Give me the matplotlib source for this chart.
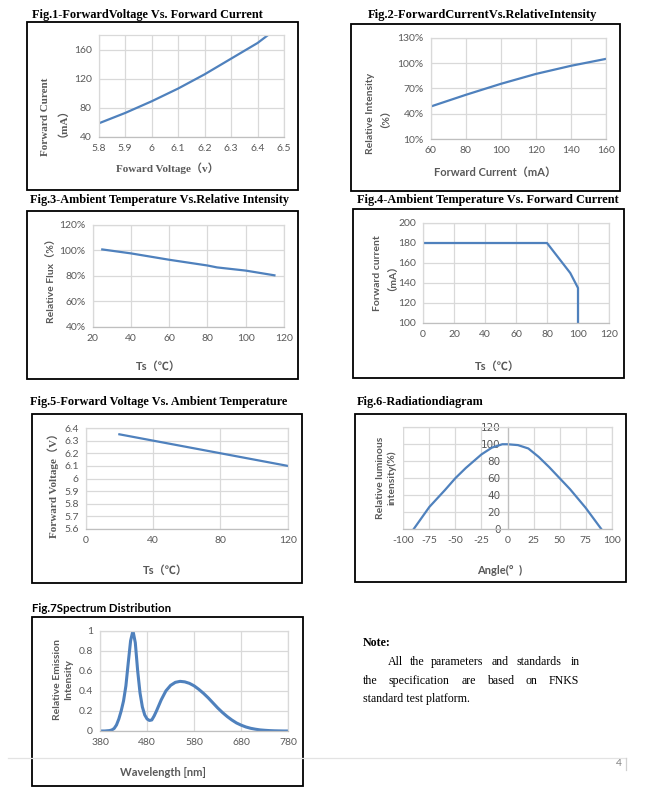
import matplotlib
matplotlib.use("Agg")
import matplotlib.pyplot as plt
from matplotlib.patches import Rectangle
from matplotlib.lines import Line2D

plt.rcParams["axes.unicode_minus"] = False

# ---------------- data ----------------
# Fig.1 Forward voltage vs forward current
f1_voltage = [5.8, 5.9, 6.0, 6.1, 6.2, 6.3, 6.4, 6.44]
f1_current = [58.7, 73, 89, 106.5, 126, 147.5, 169, 180]
f1_xticks = [5.8, 5.9, 6.0, 6.1, 6.2, 6.3, 6.4, 6.5]
f1_xlabels = ["5.8", "5.9", "6", "6.1", "6.2", "6.3", "6.4", "6.5"]
f1_yticks = [40, 80, 120, 160]

# Fig.2 Forward current vs relative intensity
f2_current = [60, 80, 100, 120, 140, 160]
f2_intensity = [48.7, 62.5, 75.5, 87.2, 96.8, 105]
f2_xticks = [60, 80, 100, 120, 140, 160]
f2_yticks = [10, 40, 70, 100, 130]
f2_ylabels = ["10%", "40%", "70%", "100%", "130%"]

# Fig.3 Ambient temperature vs relative intensity
f3_temp = [25, 40, 60, 80, 85, 100, 115]
f3_flux = [100.6, 97.5, 92.5, 88, 86.5, 84, 80.3]
f3_xticks = [20, 40, 60, 80, 100, 120]
f3_yticks = [40, 60, 80, 100, 120]
f3_ylabels = ["40%", "60%", "80%", "100%", "120%"]

# Fig.4 Ambient temperature vs forward current
f4_temp = [0, 80, 95, 100, 100]
f4_current = [180, 180, 150, 135, 100]
f4_xticks = [0, 20, 40, 60, 80, 100, 120]
f4_yticks = [100, 120, 140, 160, 180, 200]

# Fig.5 Forward voltage vs ambient temperature
f5_temp = [20, 40, 80, 120]
f5_voltage = [6.35, 6.30, 6.20, 6.10]
f5_xticks = [0, 40, 80, 120]
f5_yticks = [5.6, 5.7, 5.8, 5.9, 6.0, 6.1, 6.2, 6.3, 6.4]
f5_ylabels = ["5.6", "5.7", "5.8", "5.9", "6", "6.1", "6.2", "6.3", "6.4"]

# Fig.6 Radiation diagram
f6_angle = [-90, -75, -60, -50, -40, -25, -15, -5, 0, 10, 20, 30, 40, 50, 60, 75, 90]
f6_intensity = [0, 26, 46, 60, 72, 88, 96, 100, 100, 99, 95, 85, 73, 60, 47, 25, 0]
f6_xticks = [-100, -75, -50, -25, 0, 25, 50, 75, 100]
f6_xlabels = ["-100", "-75", "-50", "-25", "0", "25", "50", "75", "100"]
f6_yticks = [0, 20, 40, 60, 80, 100, 120]
f6_ylabels = ["0", "20", "40", "60", "80", "100", "120"]

# Fig.7 Spectrum distribution
f7_wavelength = [380, 390, 400, 405, 410, 415, 420, 425, 430, 435, 440, 445, 450, 455, 460,
                 465, 470, 475, 480, 485, 490, 495, 500, 510, 520, 530, 540, 550, 560, 570,
                 580, 590, 600, 610, 620, 630, 640, 650, 660, 670, 680, 690, 700, 710, 720,
                 730, 740, 750, 760, 770, 780]
f7_intensity = [0.0, 0.0, 0.004, 0.01, 0.025, 0.06, 0.12, 0.2, 0.3, 0.45, 0.68, 0.9, 1.0, 0.88, 0.6,
                0.38, 0.24, 0.16, 0.12, 0.105, 0.11, 0.15, 0.2, 0.31, 0.4, 0.455, 0.485, 0.495, 0.49, 0.475,
                0.45, 0.415, 0.375, 0.33, 0.28, 0.23, 0.185, 0.145, 0.11, 0.08, 0.058, 0.04, 0.027, 0.018, 0.011,
                0.007, 0.004, 0.002, 0.001, 0.0, 0.0]
f7_xticks = [380, 480, 580, 680, 780]
f7_yticks = [0, 0.2, 0.4, 0.6, 0.8, 1.0]
f7_ylabels = ["0", "0.2", "0.4", "0.6", "0.8", "1"]

# ---------------- layout helpers ----------------
W, H = 664, 798
fig = plt.figure(figsize=(W / 100, H / 100), dpi=100)
fig.patch.set_facecolor("white")

LINE = "#4f81bd"
GRID = "#d9d9d9"
TICK = "#595959"
SERIF = ["Liberation Serif", "Noto Sans CJK SC"]
SANS = ["Lato", "Noto Sans CJK SC", "DejaVu Sans"]
TSIZE = 8.8


def frect(x0, y0, x1, y1):
    return [x0 / W, 1 - y1 / H, (x1 - x0) / W, (y1 - y0) / H]


def ftext(x, y, s, **kw):
    return fig.text(x / W, 1 - y / H, s, **kw)


def frame(x0, y0, x1, y1):
    fig.add_artist(Rectangle((x0 / W, 1 - y1 / H), (x1 - x0) / W, (y1 - y0) / H,
                             transform=fig.transFigure, fill=False, lw=1.3,
                             edgecolor="black"))


def make_axes(box, xlim, ylim, xticks, yticks, xlabels=None, ylabels=None):
    ax = fig.add_axes(frect(*box))
    ax.set_xlim(*xlim)
    ax.set_ylim(*ylim)
    ax.set_xticks(xticks)
    ax.set_yticks(yticks)
    if xlabels is not None:
        ax.set_xticklabels(xlabels)
    if ylabels is not None:
        ax.set_yticklabels(ylabels)
    ax.grid(True, color=GRID, lw=0.9)
    ax.set_axisbelow(True)
    for s in ax.spines.values():
        s.set_color(GRID)
        s.set_linewidth(0.9)
    ax.spines["bottom"].set_color("#bfbfbf")
    ax.tick_params(length=0, labelcolor=TICK, labelsize=7.5, pad=5)
    for lab in ax.get_xticklabels() + ax.get_yticklabels():
        lab.set_family(SANS)
    return ax


# ---------------- Fig.1 ----------------
frame(27, 22, 298, 190)
ftext(32, 15, "Fig.1-ForwardVoltage Vs. Forward Current", family=SERIF,
      weight="bold", fontsize=TSIZE, va="center", ha="left")
ax1 = make_axes((98.7, 35, 284, 137), (5.8, 6.5), (40, 180), f1_xticks, f1_yticks,
                xlabels=f1_xlabels)
ax1.plot(f1_voltage, f1_current, color=LINE, lw=1.6)
ftext(52, 117, "Forward Curent\n（mA）", rotation=90, family=SERIF, weight="bold",
      fontsize=8, color=TICK, ha="center", va="center", multialignment="center")
ftext(167, 168, "Foward Voltage（v）", family=SERIF, weight="bold", fontsize=8,
      color=TICK, ha="center", va="center")

# ---------------- Fig.2 ----------------
frame(351, 24, 620, 191)
ftext(368, 15, "Fig.2-ForwardCurrentVs.RelativeIntensity", family=SERIF,
      weight="bold", fontsize=9.0, va="center", ha="left")
ax2 = make_axes((430.7, 37.7, 606, 139.3), (60, 160), (10, 130), f2_xticks, f2_yticks,
                ylabels=f2_ylabels)
ax2.plot(f2_current, f2_intensity, color=LINE, lw=1.6)
ftext(376, 113, "Relative Intensity\n（%）", rotation=90, family=SANS, weight="bold",
      fontsize=7.5, color=TICK, ha="center", va="center", multialignment="center")
ftext(495, 172, "Forward Current（mA）", family=SANS, weight="bold", fontsize=8,
      color=TICK, ha="center", va="center")

# ---------------- Fig.3 ----------------
frame(27, 210.7, 298, 379)
ftext(30, 200, "Fig.3-Ambient Temperature Vs.Relative Intensity", family=SERIF,
      weight="bold", fontsize=TSIZE, va="center", ha="left")
ax3 = make_axes((92.7, 224.7, 284, 326.7), (20, 120), (40, 120), f3_xticks, f3_yticks,
                ylabels=f3_ylabels)
ax3.plot(f3_temp, f3_flux, color=LINE, lw=1.6)
ftext(51.7, 278, "Relative Flux（%）", rotation=90, family=SANS, weight="bold",
      fontsize=7.5, color=TICK, ha="center", va="center")
ftext(158, 366, "Ts（℃）", family=SANS, weight="bold", fontsize=8,
      color=TICK, ha="center", va="center")

# ---------------- Fig.4 ----------------
frame(353, 209, 624, 377.7)
ftext(356.7, 200, "Fig.4-Ambient Temperature Vs. Forward Current", family=SERIF,
      weight="bold", fontsize=TSIZE, va="center", ha="left")
ax4 = make_axes((423, 223, 609, 323), (0, 120), (100, 200), f4_xticks, f4_yticks)
ax4.plot(f4_temp, f4_current, color=LINE, lw=1.6)
ftext(383, 273, "Forward current\n（mA）", rotation=90, family=SANS, weight="bold",
      fontsize=7.5, color=TICK, ha="center", va="center", multialignment="center")
ftext(497, 366, "Ts（℃）", family=SANS, weight="bold", fontsize=8,
      color=TICK, ha="center", va="center")

# ---------------- Fig.5 ----------------
frame(31.7, 414, 301.7, 582.7)
ftext(30, 402, "Fig.5-Forward Voltage Vs. Ambient Temperature", family=SERIF,
      weight="bold", fontsize=TSIZE, va="center", ha="left")
ax5 = make_axes((85.7, 428, 287.7, 529), (0, 120), (5.6, 6.4), f5_xticks, f5_yticks,
                ylabels=f5_ylabels)
ax5.plot(f5_temp, f5_voltage, color=LINE, lw=1.6)
ftext(53, 483, "Forward Voltage（V）", rotation=90, family=SERIF, weight="bold",
      fontsize=8, color=TICK, ha="center", va="center")
ftext(165, 570, "Ts（℃）", family=SANS, weight="bold", fontsize=8,
      color=TICK, ha="center", va="center")

# ---------------- Fig.6 ----------------
frame(355, 414, 625.7, 582.3)
ftext(356.7, 402, "Fig.6-Radiationdiagram", family=SERIF,
      weight="bold", fontsize=TSIZE, va="center", ha="left")
ax6 = make_axes((403.3, 427.3, 611.7, 529), (-100, 100), (0, 120), f6_xticks, f6_yticks,
                xlabels=f6_xlabels, ylabels=f6_ylabels)
ax6.spines["left"].set_position(("data", 0))
ax6.spines["left"].set_color("#bfbfbf")
ax6.plot(f6_angle, f6_intensity, color=LINE, lw=1.6)
ax6.add_line(Line2D([0, 0], [0, 1], transform=ax6.transAxes, color=GRID, lw=0.9))
ftext(386, 478, "Relative luminous\nintensity(%)", rotation=90, family=SANS, weight="bold",
      fontsize=7.5, color=TICK, ha="center", va="center", multialignment="center")
ftext(500, 570, "Angle(°  )", family=SANS, weight="bold", fontsize=8,
      color=TICK, ha="center", va="center")

# ---------------- Fig.7 ----------------
frame(32.3, 617.3, 302.7, 785.7)
ftext(32.3, 608, "Fig.7Spectrum Distribution", family=SANS,
      weight="bold", fontsize=8.3, va="center", ha="left")
ax7 = make_axes((100, 630.7, 288.3, 731), (380, 780), (0, 1), f7_xticks, f7_yticks,
                ylabels=f7_ylabels)
ax7.plot(f7_wavelength, f7_intensity, color=LINE, lw=2.2)
ftext(63, 680, "Relative Emission\nIntensity", rotation=90, family=SANS, weight="bold",
      fontsize=7.5, color=TICK, ha="center", va="center", multialignment="center")
ftext(163, 772, "Wavelength [nm]", family=SANS, weight="bold", fontsize=8,
      color=TICK, ha="center", va="center")

# ---------------- Note ----------------
NOTE = dict(family=SERIF, fontsize=8.6, va="center", ha="left", color="black")
ftext(363, 643, "Note:", family=SERIF, weight="bold", fontsize=8.6, va="center", ha="left")
line1 = [(388.3, "All"), (410, "the"), (430.7, "parameters"), (491.7, "and"),
         (516.7, "standards"), (571, "in")]
line2 = [(363, "the"), (388.3, "specification"), (461.7, "are"), (486.7, "based"),
         (525, "on"), (548.3, "FNKS")]
for x, w in line1:
    ftext(x, 662, w, **NOTE)
for x, w in line2:
    ftext(x, 681, w, **NOTE)
ftext(363, 699, "standard test platform.", **NOTE)

# ---------------- page footer ----------------
fig.add_artist(Line2D([8 / W, 626 / W], [1 - 758 / H, 1 - 758 / H], transform=fig.transFigure,
                      color="#e3e3e3", lw=0.9))
ftext(622, 764, "4", family=SANS, fontsize=7.5, color="#7f7f7f", ha="right", va="center")
fig.add_artist(Line2D([626 / W, 626 / W], [1 - 758 / H, 1 - 770 / H], transform=fig.transFigure,
                      color="#d0d0d0", lw=0.9))

fig.savefig("out.png", dpi=100, facecolor="white")
